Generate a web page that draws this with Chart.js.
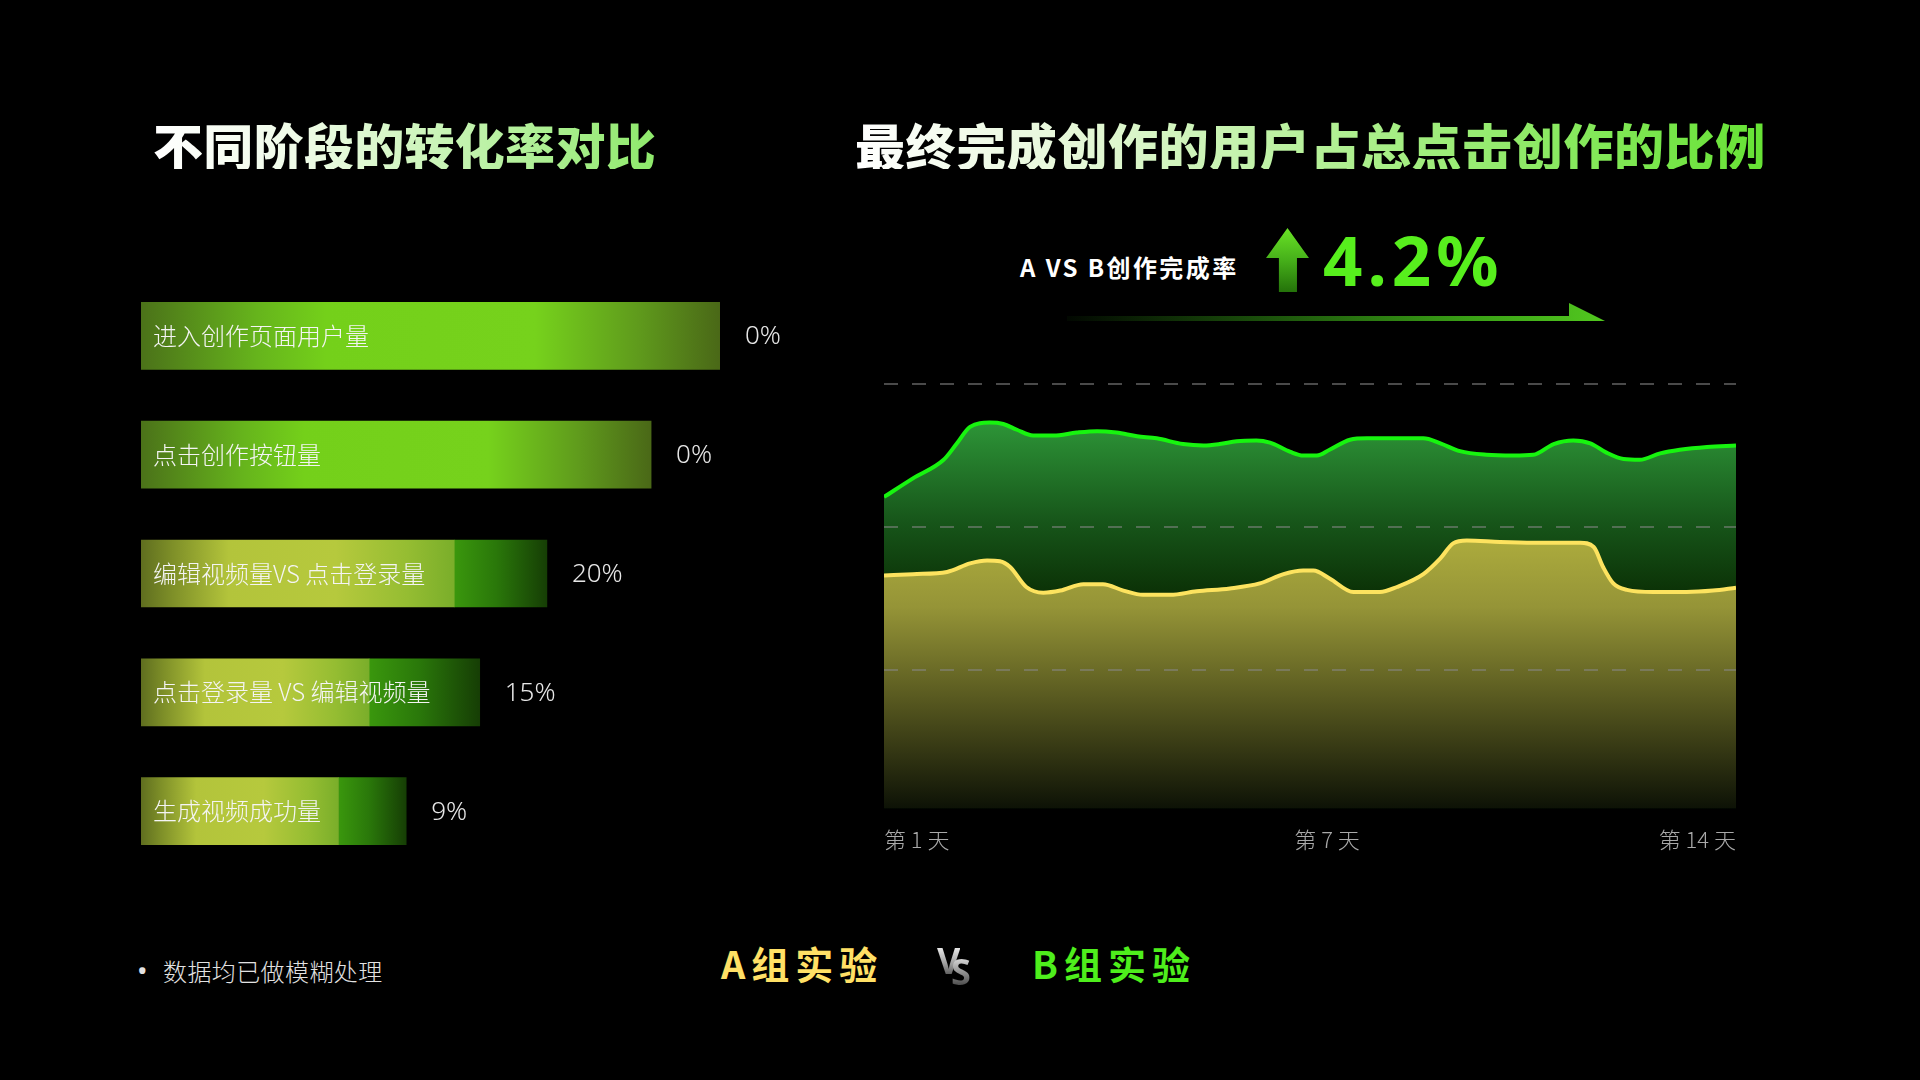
<!DOCTYPE html>
<html>
<head>
<meta charset="utf-8">
<script src="https://cdn.jsdelivr.net/npm/chart.js@4.4.1/dist/chart.umd.min.js"></script>
<style>
  html, body { margin:0; padding:0; background:#000; }
  body { width:1920px; height:1080px; position:relative; overflow:hidden; font-family:"Noto Sans CJK SC","Noto Sans",sans-serif; }
  .abs { position:absolute; white-space:nowrap; line-height:1; }
  .title { font-size:50px; font-weight:900; -webkit-background-clip:text; background-clip:text; color:transparent; }
  #t1 { left:153px; top:119px; letter-spacing:0.3px; background-image:linear-gradient(90deg,#ffffff 0%,#eefbe6 30%,#8ee96b 100%); }
  #t2 { left:855px; top:119px; letter-spacing:0.6px; background-image:linear-gradient(90deg,#ffffff 0%,#e4f7d6 25%,#a4ee82 60%,#66e234 100%); }
  #abLabel { left:1020px; top:255px; font-size:24px; font-weight:700; color:#fff; letter-spacing:2.4px; }
  #upArrow { left:1266px; top:228px; width:43px; height:64px;
    clip-path:polygon(50% 0, 100% 47%, 72% 47%, 72% 100%, 30% 100%, 30% 47%, 0 47%);
    background:linear-gradient(180deg,#6ae326 0%,#46b01a 50%,#24720a 100%); }
  #bigPct { left:1323px; top:225px; font-family:"Noto Sans",sans-serif; font-size:69px; font-weight:700; color:#57ef1d; letter-spacing:5px; }
  #underline { left:1067px; top:303px; width:538px; height:18px;
    clip-path:polygon(0 13px, 502px 13px, 502px 0, 538px 18px, 0 18px);
    background:linear-gradient(90deg,rgba(10,40,5,0.2) 0%,#1a4d0b 35%,#3aa016 75%,#52c81f 100%); }
  #bullet { left:137px; top:956px; font-family:"Noto Sans",sans-serif; font-size:28px; color:#e2e2e2; }
  #note { left:163px; top:959px; font-size:24px; font-weight:300; color:#e2e2e2; letter-spacing:0.4px; }
  #legA { left:721px; top:944px; font-size:38px; font-weight:700; color:#ffe066; letter-spacing:6px; }
  #legB { left:1032px; top:944px; font-size:38px; font-weight:700; color:#4eee1c; letter-spacing:6px; }
  .vs { font-family:"Noto Sans",sans-serif; font-weight:700; font-size:36px; -webkit-background-clip:text; background-clip:text; color:transparent; }
  #vsV { left:937px; top:943px; background-image:linear-gradient(180deg,#ffffff 0%,#9a9a9a 60%,#444 100%); }
  #vsS { left:951px; top:954px; background-image:linear-gradient(180deg,#eeeeee 0%,#8a8a8a 55%,#333 100%); }
  #barCanvas { position:absolute; left:109px; top:250px; }
  #lineCanvas { position:absolute; left:864px; top:364px; }
</style>
</head>
<body>
<div id="t1" class="abs title">不同阶段的转化率对比</div>
<div id="t2" class="abs title">最终完成创作的用户占总点击创作的比例</div>
<div id="abLabel" class="abs">A VS B创作完成率</div>
<div id="upArrow" class="abs"></div>
<div id="bigPct" class="abs">4.2%</div>
<div id="underline" class="abs"></div>

<canvas id="barCanvas" width="712" height="647" style="width:712px;height:647px"></canvas>
<canvas id="lineCanvas" width="892" height="520" style="width:892px;height:520px"></canvas>

<div id="bullet" class="abs">•</div>
<div id="note" class="abs">数据均已做模糊处理</div>
<div id="legA" class="abs">A组实验</div>
<div id="vsV" class="abs vs">V</div>
<div id="vsS" class="abs vs">S</div>
<div id="legB" class="abs">B组实验</div>

<script>
// ---------- Left chart data ----------
const stageLabels = ['进入创作页面用户量', '点击创作按钮量', '编辑视频量VS 点击登录量', '点击登录量 VS 编辑视频量', '生成视频成功量'];
const baseValues  = [100, 88.1, 54.1, 39.4, 34.1];
const extraValues = [0, 0, 16.0, 19.1, 11.7];
const valueLabels = ['0%', '0%', '20%', '15%', '9%'];

// ---------- Right chart data ----------
const groupBX = [0, 3.4, 7.0, 8.5, 10.1, 12.4, 14.0, 15.6, 17.5, 19.9, 22.6, 25.0, 27.3, 29.7, 32.0, 35.1, 37.5, 39.4, 41.4, 43.7, 45.3, 47.7, 49.2, 50.8, 52.3, 54.7, 56.7, 60.6, 63.3, 65.3, 67.6, 70.7, 73.9, 76.2, 78.6, 80.9, 82.9, 84.8, 86.8, 88.7, 91.1, 93.4, 96.6, 100];
const groupBY = [22.1, 23.4, 24.7, 25.8, 27.0, 27.3, 27.2, 26.8, 26.4, 26.4, 26.6, 26.7, 26.6, 26.35, 26.2, 25.8, 25.7, 25.8, 26.0, 26.05, 25.9, 25.25, 25.0, 25.0, 25.4, 26.1, 26.2, 26.2, 26.2, 25.85, 25.3, 25.05, 25.0, 25.05, 25.8, 26.05, 25.85, 25.2, 24.75, 24.7, 25.15, 25.4, 25.6, 25.7];
const groupAX = [0, 3.4, 7.4, 10.1, 12.1, 13.6, 14.8, 16.7, 18.7, 20.7, 23.4, 25.7, 28.1, 30.4, 33.6, 36.7, 40.6, 44.1, 46.9, 49.2, 50.4, 52.3, 55.1, 58.2, 60.2, 63.3, 65.3, 66.8, 68.4, 72.3, 76.2, 81.7, 83.3, 84.4, 85.6, 87.2, 90.3, 94.2, 97.3, 100];
const groupAY = [16.6, 16.7, 16.85, 17.45, 17.65, 17.6, 17.2, 15.8, 15.4, 15.55, 16.0, 16.0, 15.55, 15.25, 15.25, 15.5, 15.7, 16.05, 16.7, 16.95, 16.95, 16.4, 15.45, 15.45, 15.8, 16.7, 17.8, 18.85, 19.05, 18.95, 18.9, 18.9, 18.6, 17.2, 16.05, 15.6, 15.45, 15.45, 15.55, 15.75];
const xTickPos    = [0, 52, 100];
const xTickLabels = ['第 1 天', '第 7 天', '第 14 天'];
const yTickValues = [10, 20, 30];

// ---------- helpers ----------
function hGrad(ctx, x0, x1, stops) {
  const g = ctx.createLinearGradient(x0, 0, x1, 0);
  stops.forEach(s => g.addColorStop(s[0], s[1]));
  return g;
}
const greenBarStops  = [[0,'#4b7219'],[0.2,'#66b41c'],[0.32,'#74d01a'],[0.68,'#76d21c'],[0.86,'#5f9a1c'],[1,'#4a6817']];
const yellowBarStops = [[0,'#5f6e1f'],[0.1,'#7e8f28'],[0.28,'#b3c43b'],[0.62,'#b6c93d'],[0.85,'#95bd32'],[1,'#7aae2a']];
const darkBarStops   = [[0,'#3a970d'],[0.45,'#2a780a'],[1,'#163e05']];

const valueLabelPlugin = {
  id: 'valueLabels',
  afterDatasetsDraw(chart) {
    const ctx = chart.ctx;
    const meta = chart.getDatasetMeta(1);
    ctx.save();
    ctx.font = '300 26px "Noto Sans", sans-serif';
    ctx.fillStyle = '#e6e6e6';
    ctx.textAlign = 'left';
    ctx.textBaseline = 'middle';
    meta.data.forEach((bar, i) => ctx.fillText(valueLabels[i], bar.x + 25, bar.y + 1));
    ctx.restore();
  }
};

// ---------- Left: horizontal stacked bars ----------
new Chart(document.getElementById('barCanvas'), {
  type: 'bar',
  data: {
    labels: stageLabels,
    datasets: [
      {
        data: baseValues,
        borderWidth: 0,
        barThickness: 67,
        backgroundColor: (c) => {
          const { ctx, chartArea, scales } = c.chart;
          if (!chartArea || c.dataIndex === undefined) return 'rgba(0,0,0,0)';
          const i = c.dataIndex;
          const x0 = scales.x.getPixelForValue(0);
          const x1 = scales.x.getPixelForValue(baseValues[i]);
          return hGrad(ctx, x0, x1, extraValues[i] > 0 ? yellowBarStops : greenBarStops);
        }
      },
      {
        data: extraValues,
        borderWidth: 0,
        barThickness: 67,
        backgroundColor: (c) => {
          const { ctx, chartArea, scales } = c.chart;
          if (!chartArea || c.dataIndex === undefined) return 'rgba(0,0,0,0)';
          const i = c.dataIndex;
          if (!(extraValues[i] > 0)) return 'rgba(0,0,0,0)';
          const x0 = scales.x.getPixelForValue(baseValues[i]);
          const x1 = scales.x.getPixelForValue(baseValues[i] + extraValues[i]);
          return hGrad(ctx, x0, x1, darkBarStops);
        }
      }
    ]
  },
  options: {
    indexAxis: 'y',
    responsive: false,
    animation: false,
    devicePixelRatio: 1,
    layout: { padding: { left: 8, right: 101, top: 0, bottom: 0 } },
    plugins: { legend: { display: false }, tooltip: { enabled: false } },
    scales: {
      x: { display: false, stacked: true, min: 0, max: 100 },
      y: {
        stacked: true,
        grid: { display: false, drawTicks: false },
        border: { display: false },
        ticks: {
          mirror: true,
          padding: 12,
          z: 1,
          color: '#f4f4f4',
          font: { family: '"Noto Sans CJK SC", sans-serif', size: 24, weight: 300 }
        }
      }
    }
  },
  plugins: [valueLabelPlugin]
});

// ---------- Right: area lines ----------
const pointsA = groupAX.map((x, i) => ({ x: x, y: groupAY[i] }));
const pointsB = groupBX.map((x, i) => ({ x: x, y: groupBY[i] }));

new Chart(document.getElementById('lineCanvas'), {
  type: 'line',
  data: {
    datasets: [
      {
        label: 'A组实验',
        data: pointsA,
        borderColor: '#fde35f',
        borderWidth: 4,
        pointRadius: 0,
        cubicInterpolationMode: 'monotone',
        fill: 'start',
        backgroundColor: (c) => {
          const { ctx, chartArea } = c.chart;
          if (!chartArea) return 'rgba(0,0,0,0)';
          const g = ctx.createLinearGradient(0, chartArea.top + 156, 0, chartArea.bottom);
          g.addColorStop(0, '#acab3d');
          g.addColorStop(0.25, '#959437');
          g.addColorStop(0.6, '#56571f');
          g.addColorStop(1, '#0d1206');
          return g;
        }
      },
      {
        label: 'B组实验',
        data: pointsB,
        borderColor: '#17f40f',
        borderWidth: 4,
        pointRadius: 0,
        cubicInterpolationMode: 'monotone',
        fill: 'start',
        backgroundColor: (c) => {
          const { ctx, chartArea } = c.chart;
          if (!chartArea) return 'rgba(0,0,0,0)';
          const g = ctx.createLinearGradient(0, chartArea.top + 40, 0, chartArea.top + 216);
          g.addColorStop(0, '#2d9437');
          g.addColorStop(0.55, '#17561a');
          g.addColorStop(1, '#0a2e04');
          return g;
        }
      }
    ]
  },
  options: {
    responsive: false,
    animation: false,
    devicePixelRatio: 1,
    layout: { padding: { left: 20, right: 20, top: 20, bottom: 13 } },
    plugins: { legend: { display: false }, tooltip: { enabled: false } },
    scales: {
      x: {
        type: 'linear',
        min: 0,
        max: 100,
        grid: { display: false, drawTicks: false },
        border: { display: false },
        afterBuildTicks: (axis) => { axis.ticks = xTickPos.map(v => ({ value: v })); },
        ticks: {
          align: 'inner',
          autoSkip: false,
          maxRotation: 0,
          padding: 18,
          color: '#a9a9a9',
          font: { family: '"Noto Sans CJK SC", sans-serif', size: 22, weight: 300 },
          callback: (v) => { const k = xTickPos.indexOf(v); return k >= 0 ? xTickLabels[k] : ''; }
        }
      },
      y: {
        min: 0.3,
        max: 30,
        afterBuildTicks: (axis) => { axis.ticks = yTickValues.map(v => ({ value: v })); },
        grid: { z: 1, color: 'rgba(135,135,135,0.55)', lineWidth: 2, drawTicks: false },
        border: { display: false, dash: [14, 14] },
        ticks: { display: false }
      }
    }
  }
});
</script>
</body>
</html>
